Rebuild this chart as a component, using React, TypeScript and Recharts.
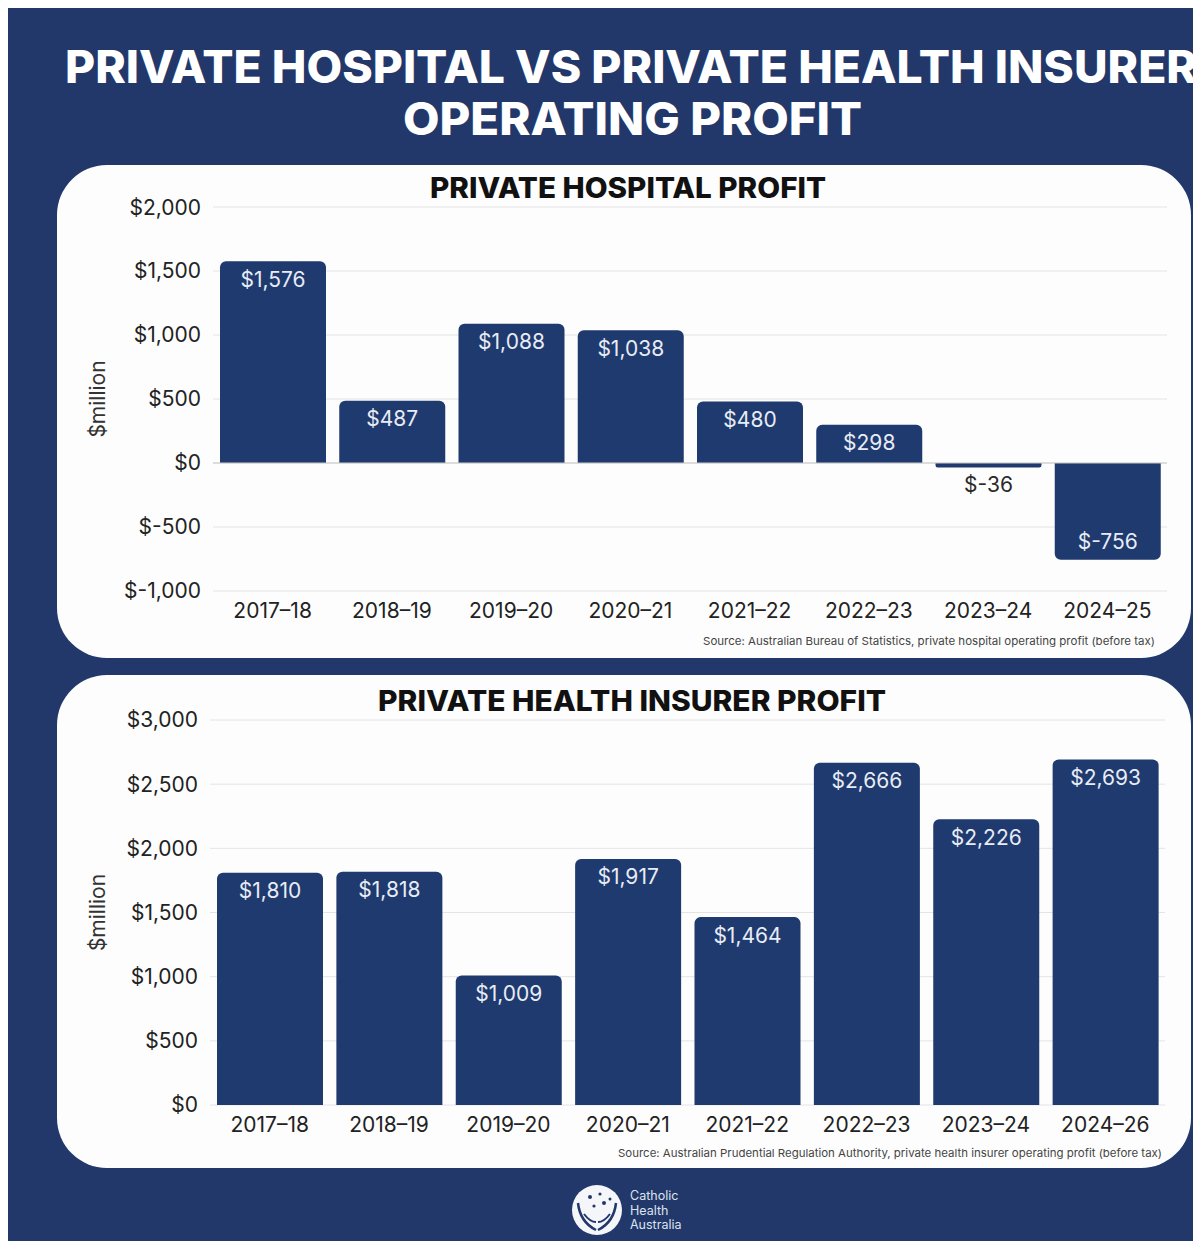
import React from "react";
import { BarChart, Bar, XAxis, YAxis, CartesianGrid, ReferenceLine, LabelList } from "recharts";

const hospitalYears = ["2017–18", "2018–19", "2019–20", "2020–21", "2021–22", "2022–23", "2023–24", "2024–25"];
const hospitalProfit = [1576, 487, 1088, 1038, 480, 298, -36, -756];
const hospitalTicks = [-1000, -500, 0, 500, 1000, 1500, 2000];

const insurerYears = ["2017–18", "2018–19", "2019–20", "2020–21", "2021–22", "2022–23", "2023–24", "2024–26"];
const insurerProfit = [1810, 1818, 1009, 1917, 1464, 2666, 2226, 2693];
const insurerTicks = [0, 500, 1000, 1500, 2000, 2500, 3000];

const NAVY = "#22386a";
const BAR = "#1f3a6e";
const FONT = "Inter, 'Open Sans', sans-serif";

const money = (v: number) => (v < 0 ? "$-" + Math.abs(v).toLocaleString("en-US") : "$" + v.toLocaleString("en-US"));

const hospitalData = hospitalYears.map((year, i) => ({ year, value: hospitalProfit[i] }));
const insurerData = insurerYears.map((year, i) => ({ year, value: insurerProfit[i] }));

const BarLabel = (props: any) => {
  const { x, y, width, height, value } = props;
  const top = Math.min(y, y + height);
  const bottom = Math.max(y, y + height);
  const h = bottom - top;
  const cx = x + width / 2;
  let ty = 0;
  let inside = h > 30;
  if (value >= 0) ty = inside ? top + 18 : top - 16;
  else ty = inside ? bottom - 18 : bottom + 17;
  return (
    <text x={cx} y={ty} textAnchor="middle" dominantBaseline="central" fontFamily={FONT} fontSize={21}
      fill={inside ? "#e8ecf5" : "#2a2a2a"}>
      {money(value)}
    </text>
  );
};

const tickStyle = { fontFamily: FONT, fontSize: 21, fill: "#222" };

function ProfitChart({ data, ticks, domain, yWidth, margin, showZero }: any) {
  return (
    <BarChart width={1120} height={440} data={data} margin={margin} barSize={106}>
      <CartesianGrid vertical={false} stroke="#e4e4e4" />
      <XAxis dataKey="year" axisLine={false} tickLine={false} tick={tickStyle} tickMargin={6} height={40} interval={0} />
      <YAxis
        type="number"
        domain={domain}
        ticks={ticks}
        width={yWidth}
        axisLine={false}
        tickLine={false}
        tickMargin={6}
        tick={tickStyle}
        tickFormatter={money}
        label={{ value: "$million", angle: -90, position: "insideLeft", offset: 38,
          style: { textAnchor: "middle", fontFamily: FONT, fontSize: 21, fill: "#333" } }}
      />
      {showZero && <ReferenceLine y={0} stroke="#c8c8c8" />}
      <Bar dataKey="value" fill={BAR} radius={[6, 6, 0, 0]} isAnimationActive={false}>
        <LabelList dataKey="value" content={BarLabel} />
      </Bar>
    </BarChart>
  );
}

function Background() {
  return (
    <svg width={1201} height={1249} style={{ position: "absolute", left: 0, top: 0 }}>
      <rect x={0} y={0} width={1201} height={1249} fill="#fff" />
      <rect x={8} y={5} width={1193} height={1244} fill={NAVY} />
      <text x={65} y={83} fontFamily={FONT} fontWeight={800} fontSize={45} fill="#fff" textLength={1132} lengthAdjust="spacingAndGlyphs">
        PRIVATE HOSPITAL VS PRIVATE HEALTH INSURER
      </text>
      <text x={403} y={135} fontFamily={FONT} fontWeight={800} fontSize={45} fill="#fff" textLength={459} lengthAdjust="spacingAndGlyphs">
        OPERATING PROFIT
      </text>
      <rect x={57} y={165} width={1134} height={493} rx={50} ry={50} fill="#fdfdfd" />
      <rect x={57} y={675} width={1134} height={493} rx={50} ry={50} fill="#fdfdfd" />
      <text x={430} y={198} fontFamily={FONT} fontWeight={800} fontSize={28} fill="#111" textLength={396} lengthAdjust="spacingAndGlyphs">
        PRIVATE HOSPITAL PROFIT
      </text>
      <text x={378} y={711} fontFamily={FONT} fontWeight={800} fontSize={28} fill="#111" textLength={508} lengthAdjust="spacingAndGlyphs">
        PRIVATE HEALTH INSURER PROFIT
      </text>
      <text x={703} y={645} fontFamily={FONT} fontSize={11} fill="#444" textLength={452} lengthAdjust="spacingAndGlyphs">
        Source: Australian Bureau of Statistics, private hospital operating profit (before tax)
      </text>
      <text x={618} y={1157} fontFamily={FONT} fontSize={11} fill="#444" textLength={544} lengthAdjust="spacingAndGlyphs">
        Source: Australian Prudential Regulation Authority, private health insurer operating profit (before tax)
      </text>
      <circle cx={597} cy={1210} r={25} fill="#f4f6fa" />
      <circle cx={590} cy={1197} r={2} fill={NAVY} />
      <circle cx={600} cy={1194} r={1.6} fill={NAVY} />
      <circle cx={604} cy={1203} r={2} fill={NAVY} />
      <circle cx={594} cy={1206} r={1.6} fill={NAVY} />
      <circle cx={610} cy={1199} r={1.5} fill={NAVY} />
      <path d="M578 1203 Q580 1222 596 1230" stroke={NAVY} strokeWidth={2.5} fill="none" />
      <path d="M616 1203 Q614 1222 598 1230" stroke={NAVY} strokeWidth={2.5} fill="none" />
      <path d="M584 1214 Q590 1222 596 1222" stroke={NAVY} strokeWidth={2} fill="none" />
      <path d="M610 1214 Q604 1222 598 1222" stroke={NAVY} strokeWidth={2} fill="none" />
      <text x={630} y={1200} fontFamily={FONT} fontSize={12.5} fill="#dde3ee">Catholic</text>
      <text x={630} y={1214.5} fontFamily={FONT} fontSize={12.5} fill="#dde3ee">Health</text>
      <text x={630} y={1229} fontFamily={FONT} fontSize={12.5} fill="#dde3ee">Australia</text>
    </svg>
  );
}

export default function App() {
  return (
    <div style={{ position: "relative", width: 1201, height: 1249, overflow: "hidden", margin: -8 }}>
      <Background />
      <div style={{ position: "absolute", left: 60, top: 195 }}>
        <ProfitChart data={hospitalData} ticks={hospitalTicks} domain={[-1000, 2000]} yWidth={153}
          margin={{ top: 12, right: 13, bottom: 4, left: 0 }} showZero />
      </div>
      <div style={{ position: "absolute", left: 60, top: 705 }}>
        <ProfitChart data={insurerData} ticks={insurerTicks} domain={[0, 3000]} yWidth={150}
          margin={{ top: 15, right: 15, bottom: 0, left: 0 }} showZero={false} />
      </div>
    </div>
  );
}
